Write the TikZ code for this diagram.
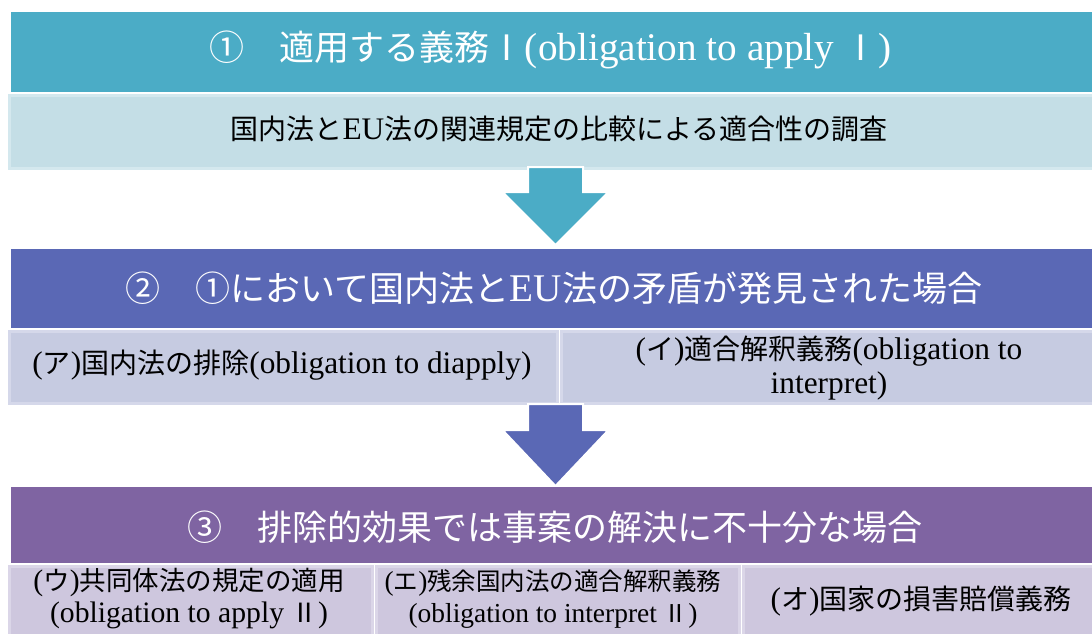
\documentclass[tikz,border=0pt]{standalone}
\usepackage{fontspec}
\setmainfont{Liberation Serif}[Scale=1.12]
\newfontfamily\cjk{Noto Sans CJK JP}
\definecolor{cA}{HTML}{4BACC6}
\definecolor{cAl}{HTML}{C4DEE6}
\definecolor{cAb}{HTML}{D4E8EE}
\definecolor{cB}{HTML}{5A68B5}
\definecolor{cBl}{HTML}{C6CBE1}
\definecolor{cBb}{HTML}{D5D8EA}
\definecolor{cC}{HTML}{7F64A2}
\definecolor{cCl}{HTML}{CEC7DE}
\definecolor{cCb}{HTML}{DBD6E8}
\begin{document}
\begin{tikzpicture}[x=1pt,y=-1pt,
  hdr/.style={fill=#1, draw=none, anchor=north west, inner sep=0pt},
  subbox/.style={fill=#1l, draw=#1b, line width=3pt, anchor=north west, inner sep=0pt},
  hdrtxt/.style={text=white, inner sep=0pt, font=\fontsize{35}{40}\selectfont},
  subtxt/.style={text=black, inner sep=0pt, align=center, font=\fontsize{28}{34}\selectfont},
  smalltxt/.style={text=black, inner sep=0pt, align=center, font=\fontsize{26.5}{32}\selectfont},
  tinytxt/.style={text=black, inner sep=0pt, align=center, font=\fontsize{24.5}{32}\selectfont},
  blockarrow/.style={fill=#1, draw=white, line width=2pt, line join=miter}
]
\clip (0,0) rectangle (1092,633);
\fill[white] (0,0) rectangle (1092,633);
% row 1
\node[hdr=cA, minimum width=1081pt, minimum height=80pt] (h1) at (11,12) {};
\node[subbox=cA, minimum width=1100pt, minimum height=73pt] (s1) at (7.5,93.5) {};
\node[hdrtxt] (t1) at (551,50) {{\cjk ①　適用する義務Ⅰ}(obligation to apply {\cjk Ⅰ})};
\node[subtxt] (u1) at (559,129) {{\cjk 国内法と}EU{\cjk 法の関連規定の比較による適合性の調査}};
% arrow 1
\coordinate (a1top) at (555.5,167);
\coordinate (a1tip) at (555.5,245);
\draw[blockarrow=cA] (a1top) ++(-27.5,0) -- ++(55,0) -- ++(0,25) -- ++(25.5,0) -- (a1tip) -- ++(-53,-53) -- ++(25.5,0) -- cycle;
% row 2
\node[hdr=cB, minimum width=1090pt, minimum height=79pt] (h2) at (11,249) {};
\node[subbox=cB, minimum width=548pt, minimum height=72pt] (s2a) at (7.5,329.5) {};
\node[subbox=cB, minimum width=540pt, minimum height=72pt] (s2b) at (559.5,329.5) {};
\node[hdrtxt] (t2) at (554,288) {{\cjk ②　①において国内法と}EU{\cjk 法の矛盾が発見された場合}};
\node[subtxt] (u2a) at (282,365) {({\cjk ア}){\cjk 国内法の排除}(obligation to diapply)};
\node[subtxt] (u2b) at (829,368) {({\cjk イ}){\cjk 適合解釈義務}(obligation to\\interpret)};
% arrow 2
\coordinate (a2top) at (555.5,404);
\coordinate (a2tip) at (555.5,486);
\draw[blockarrow=cB] (a2top) ++(-27.5,0) -- ++(55,0) -- ++(0,26) -- ++(25.5,0) -- (a2tip) -- ++(-53,-56) -- ++(25.5,0) -- cycle;
% row 3
\node[hdr=cC, minimum width=1090pt, minimum height=76pt] (h3) at (11,487) {};
\node[subbox=cC, minimum width=363pt, minimum height=80pt] (s3a) at (7.5,564.5) {};
\node[subbox=cC, minimum width=363pt, minimum height=80pt] (s3b) at (374.5,564.5) {};
\node[subbox=cC, minimum width=360pt, minimum height=80pt] (s3c) at (741.5,564.5) {};
\node[hdrtxt] (t3) at (555,527) {{\cjk ③　排除的効果では事案の解決に不十分な場合}};
\node[smalltxt] (u3a) at (189,599) {({\cjk ウ}){\cjk 共同体法の規定の適用}\\(obligation to apply {\cjk Ⅱ})};
\node[tinytxt] (u3b) at (553,599) {({\cjk エ}){\cjk 残余国内法の適合解釈義務}\\(obligation to interpret {\cjk Ⅱ})};
\node[subtxt] (u3c) at (921,601) {({\cjk オ}){\cjk 国家の損害賠償義務}};
\end{tikzpicture}
\end{document}
